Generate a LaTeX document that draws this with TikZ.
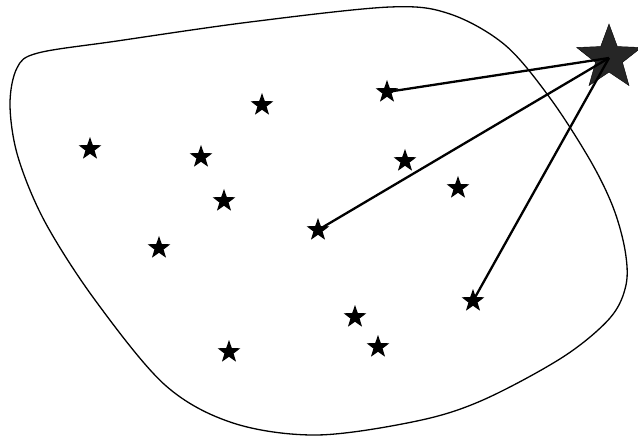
\documentclass[tikz,border=0pt]{standalone}
\usetikzlibrary{shapes.geometric}
\begin{document}
\begin{tikzpicture}[x=1pt,y=-1pt,
  smallstar/.style={star,star points=5,star point ratio=2.5,fill=black,draw=none,inner sep=0pt,minimum size=24pt},
  bigstar/.style={star,star points=5,star point ratio=2.4,fill=black!85,draw=black,inner sep=0pt,minimum size=68pt},
  ray/.style={line width=2.3pt,black},
  blob/.style={line width=1.3pt,black}]
\useasboundingbox (0,0) rectangle (638,441);
\fill[white] (0,0) rectangle (638,441);
\draw[blob] plot[smooth cycle,tension=0.55] coordinates {
 (38,53) (117,41) (250,22) (390,7) (450,14) (505,45) (550,98) (590,160)
 (613,207) (625,250) (626,285) (610,318) (563,357) (483,400) (417,421)
 (317,435) (233,423) (165,385) (95,300) (45,222) (18,157)
 (10,105) (17,68)};
\node[smallstar] (s1) at (262,105) {};
\node[smallstar] (s2) at (387,92) {};
\node[smallstar] (s3) at (90,149) {};
\node[smallstar] (s4) at (201,157) {};
\node[smallstar] (s5) at (405,161) {};
\node[smallstar] (s6) at (458,188) {};
\node[smallstar] (s7) at (224,201) {};
\node[smallstar] (s8) at (318,230) {};
\node[smallstar] (s9) at (159,248) {};
\node[smallstar] (s10) at (473,301) {};
\node[smallstar] (s11) at (355,317) {};
\node[smallstar] (s12) at (378,347) {};
\node[smallstar] (s13) at (229,352) {};
\node[bigstar] (big) at (609,58) {};
\draw[ray] (big.center) -- (s2.center);
\draw[ray] (big.center) -- (s8.center);
\draw[ray] (big.center) -- (s10.center);
\end{tikzpicture}
\end{document}
